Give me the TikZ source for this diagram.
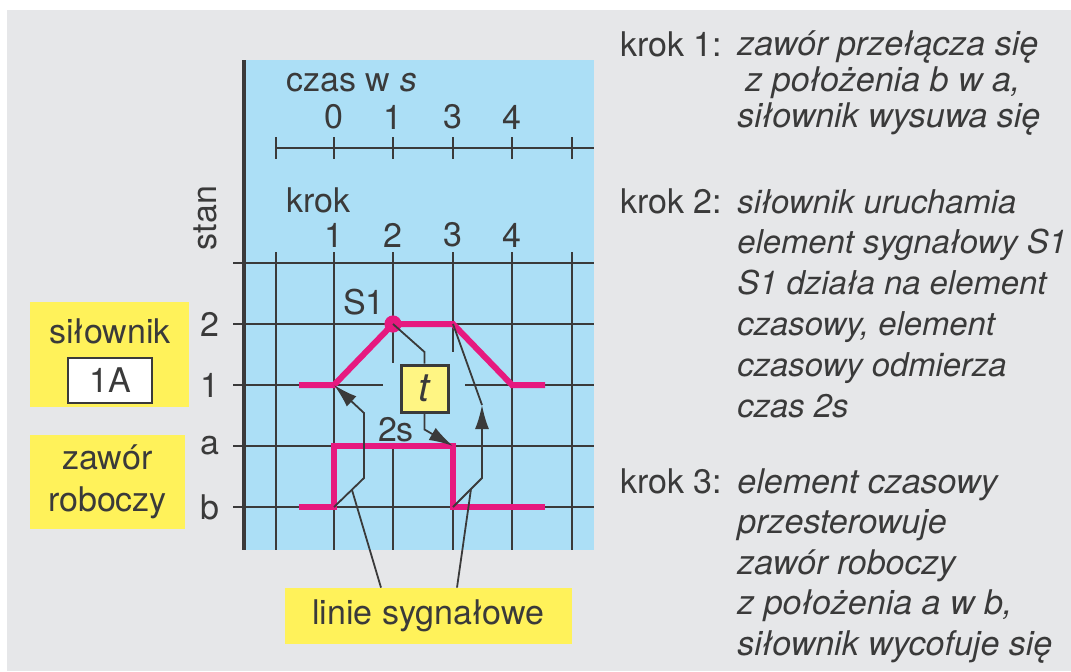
\documentclass[tikz,border=0pt]{standalone}
\usepackage{fontspec}
\setmainfont{TeX Gyre Heros}
\usetikzlibrary{arrows.meta}

\definecolor{tlo}{HTML}{E6E7E9}
\definecolor{niebieski}{HTML}{ACDFF6}
\definecolor{zolty}{HTML}{FFF25A}
\definecolor{roz}{HTML}{E6197F}
\definecolor{linia}{HTML}{3A3A3A}

\tikzset{
  siatka/.style={draw=linia,line width=1.2pt},
  wykres/.style={draw=roz,line width=3pt},
  sygnal/.style={draw=linia,line width=0.9pt},
  grot/.style={-{Latex[length=12pt,width=7pt]}},
  etykieta/.style={fill=zolty,inner sep=0pt,text=linia},
  opis/.style={anchor=base west,align=left,inner sep=0pt},
}

\begin{document}
\begin{tikzpicture}[x=0.5pt,y=-0.5pt,font=\fontsize{17}{20}\selectfont,text=linia]
		\useasboundingbox (0,0) rectangle (1071,671);
		\fill[white] (0,0) rectangle (1071,671);
		\fill[tlo] (7,10) rectangle (1071,671);
		\fill[niebieski] (244,60) rectangle (594,550);

		% siatka
		\foreach \x in {276,334,512,572}
			\draw[siatka] (\x,252) -- (\x,550);
		\draw[siatka] (393,252) -- (393,363) (393,446) -- (393,550);
		\draw[siatka] (453,252) -- (453,352) (453,446) -- (453,550);
		\foreach \y in {263,324,446,507}
			\draw[siatka] (233,\y) -- (594,\y);
		\draw[siatka] (233,385) -- (383,385) (465,385) -- (594,385);
		\draw[linia,line width=1.6pt] (244,60) -- (244,550);

		% os czasu
		\draw[siatka] (276,148) -- (594,148);
		\foreach \x in {276,334,393,453,512,572}
			\draw[siatka] (\x,137) -- (\x,159);
		\node[anchor=west,inner sep=0pt] (czas) at (286,83) {czas w \textit{s}};
		\foreach \x/\n [count=\i] in {334/0,393/1,453/3,512/4}
			\node (sek\i) at (\x,117) {\n};
		\node[anchor=west,inner sep=0pt] (krok) at (286,200) {krok};
		\foreach \x/\n [count=\i] in {334/1,393/2,453/3,512/4}
			\node (kr\i) at (\x,235) {\n};
		\node[rotate=90] (stan) at (205,218) {stan};
		\foreach \y/\n [count=\i] in {324/2,385/1,446/a,507/b}
			\node (st\i) at (210,\y) {\n};

		% opisy po lewej
		\node[etykieta,minimum width=79.5pt,minimum height=52.5pt] (silownik) at (109.5,354.5) {};
		\node (silt) at (110,331) {siłownik};
		\node[draw=linia,line width=1pt,fill=white,minimum width=42pt,minimum height=22.5pt,inner sep=0pt] (jedenA) at (110,380) {1A};
		\node[etykieta,minimum width=77.5pt,minimum height=47pt,align=center,font=\fontsize{17}{21}\selectfont] (zawor) at (107.5,482) {zawór\\roboczy};
		\node[etykieta,minimum width=143.5pt,minimum height=28pt] (linie) at (428.5,616) {linie sygnałowe};

		% przebiegi
		\coordinate (k1) at (334,385);
		\coordinate (k2) at (393,324);
		\coordinate (k3) at (453,324);
		\coordinate (z1) at (334,507);
		\coordinate (z2) at (453,446);
		\coordinate (z3) at (453,507);
		\draw[wykres] (299,385) -- (k1) -- (k2) -- (k3) -- (512,385) -- (545,385);
		\draw[wykres] (299,507) -- (z1) -- (334,446) -- (z2) -- (z3) -- (545,507);
		\fill[roz] (k2) circle (4.3pt);
		\node (s1) at (364,302) {S1};

		% element czasowy
		\node[draw=linia,line width=1.5pt,fill=zolty!75,minimum size=23.5pt,inner sep=0pt,font=\fontsize{20}{20}\selectfont] (timer) at (424.5,388.5) {\textit{t}};
		\node (dwa) at (396,430) {2s};

		% linie sygnalowe
		\coordinate (s3) at (482,405);
		\coordinate (p1) at (352,490);
		\coordinate (p2) at (471,489);
		\draw[sygnal,grot] (z1) -- (364,478) -- (364,413) -- (k1);
		\draw[sygnal] (k2) -- (424.5,352) -- (timer.north);
		\draw[sygnal,grot] (timer.south) -- ++(0,16) -- (z2);
		\draw[sygnal,grot] (z3) -- (482,478) -- (s3);
		\draw[sygnal] (s3) -- (k3);
		\draw[sygnal] (p1) -- ([xshift=-23.75pt]linie.north);
		\draw[sygnal] (p2) -- ([xshift=14.25pt]linie.north);

		% opis krokow
		\node[opis] (krok1) at (620,56) {krok 1:};
		\node[opis,font=\fontsize{17}{18}\selectfont\itshape] (opis1) at (737,127) {zawór przełącza się\\\hspace{4pt}z położenia b w a,\\siłownik wysuwa się};
		\node[opis] (krok2) at (620,213) {krok 2:};
		\node[opis,font=\fontsize{16.4}{20.4}\selectfont\itshape] (opis2) at (737,417) {siłownik uruchamia\\element sygnałowy S1\\S1 działa na element\\czasowy, element\\czasowy odmierza\\czas 2s};
		\node[opis] (krok3) at (620,493) {krok 3:};
		\node[opis,font=\fontsize{17}{20.25}\selectfont\itshape] (opis3) at (737,655) {element czasowy\\przesterowuje\\zawór roboczy\\z położenia a w b,\\siłownik wycofuje się};
\end{tikzpicture}
\end{document}
